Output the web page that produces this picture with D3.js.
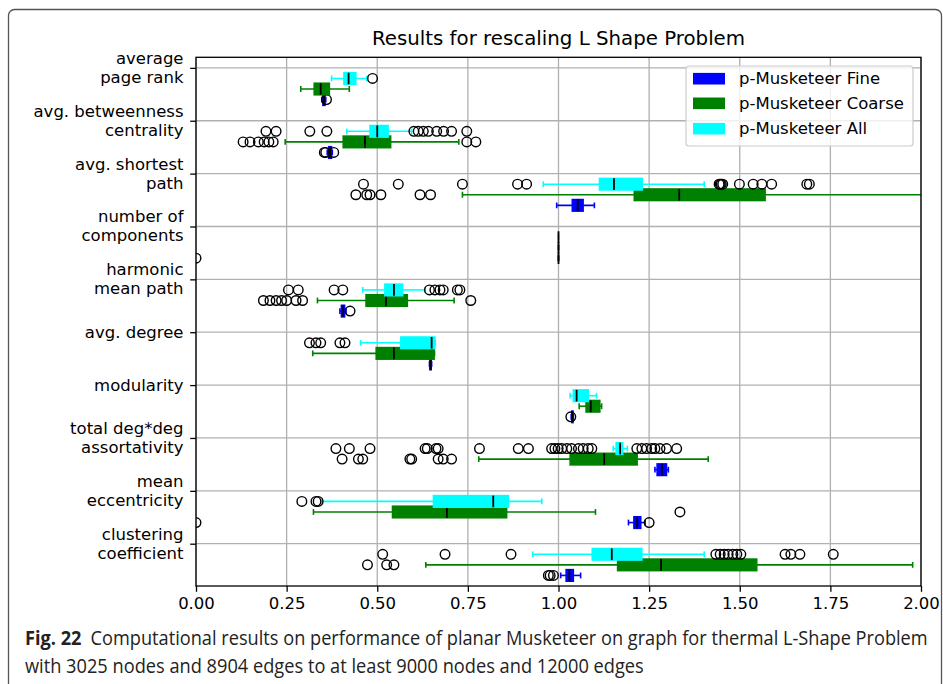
<!DOCTYPE html>
<html>
<head>
<meta charset="utf-8">
<script src="https://cdn.jsdelivr.net/npm/d3@7.9.0/dist/d3.min.js"></script>
<style>
  html, body { margin: 0; padding: 0; background: #fff; }
  svg { display: block; }
</style>
</head>
<body>
<svg id="chart" width="943" height="684"></svg>
<script>
// metric names, top to bottom
const categories = [
  ['average', 'page rank'],
  ['avg. betweenness', 'centrality'],
  ['avg. shortest', 'path'],
  ['number of', 'components'],
  ['harmonic', 'mean path'],
  ['avg. degree'],
  ['modularity'],
  ['total deg*deg', 'assortativity'],
  ['mean', 'eccentricity'],
  ['clustering', 'coefficient']
];

const xTicks = [0, 0.25, 0.5, 0.75, 1.0, 1.25, 1.5, 1.75, 2.0];

const seriesNames = ['p-Musketeer Fine', 'p-Musketeer Coarse', 'p-Musketeer All'];

// [whisker low, q1, median, q3, whisker high] per category
const allStats = [
  [0.374, 0.408, 0.421, 0.441, 0.471],
  [0.416, 0.480, 0.500, 0.530, 0.595],
  [0.958, 1.113, 1.153, 1.231, 1.402],
  [1.0, 1.0, 1.0, 1.0, 1.0],
  [0.460, 0.521, 0.546, 0.570, 0.632],
  [0.454, 0.565, 0.650, 0.659, 0.660],
  [1.032, 1.041, 1.050, 1.082, 1.105],
  [1.151, 1.159, 1.170, 1.177, 1.190],
  [0.347, 0.655, 0.820, 0.862, 0.954],
  [0.929, 1.093, 1.147, 1.230, 1.402]
];
const allFliers = [
  [0.487],
  [0.193, 0.221, 0.314, 0.361, 0.601, 0.613, 0.627, 0.641, 0.664, 0.683, 0.705, 0.747],
  [0.462, 0.558, 0.735, 0.887, 0.912, 1.443, 1.446, 1.449, 1.453, 1.499, 1.537, 1.561, 1.588, 1.685, 1.692],
  [],
  [0.255, 0.282, 0.381, 0.405, 0.644, 0.659, 0.673, 0.682, 0.721, 0.728],
  [0.313, 0.331, 0.344, 0.397, 0.411],
  [],
  [0.386, 0.423, 0.480, 0.632, 0.638, 0.662, 0.668, 0.782, 0.889, 0.917, 0.981, 0.990, 0.999, 1.009, 1.023,
   1.036, 1.055, 1.068, 1.082, 1.092, 1.216, 1.230, 1.243, 1.257, 1.266, 1.280, 1.298, 1.326],
  [0.292, 0.331, 0.337],
  [0.515, 0.687, 0.869, 1.434, 1.446, 1.457, 1.468, 1.481, 1.492, 1.503, 1.625, 1.641, 1.666, 1.758]
];

const coarseStats = [
  [0.289, 0.326, 0.344, 0.368, 0.423],
  [0.246, 0.406, 0.466, 0.537, 0.725],
  [0.735, 1.209, 1.333, 1.570, 2.2],
  [1.0, 1.0, 1.0, 1.0, 1.0],
  [0.335, 0.469, 0.524, 0.583, 0.712],
  [0.322, 0.497, 0.546, 0.657, 0.658],
  [1.057, 1.076, 1.089, 1.114, 1.119],
  [0.780, 1.032, 1.126, 1.217, 1.413],
  [0.324, 0.542, 0.692, 0.857, 1.102],
  [0.634, 1.163, 1.283, 1.547, 1.977]
];
const coarseFliers = [
  [],
  [0.130, 0.149, 0.172, 0.188, 0.201, 0.213, 0.747, 0.772],
  [0.441, 0.471, 0.480, 0.510, 0.618, 0.647],
  [],
  [0.186, 0.204, 0.221, 0.236, 0.250, 0.276, 0.294, 0.758],
  [],
  [],
  [0.403, 0.448, 0.460, 0.590, 0.595, 0.668, 0.682, 0.705],
  [1.335],
  [0.473, 0.526, 0.546]
];

const fineStats = [
  [0.347, 0.350, 0.353, 0.356, 0.358],
  [0.362, 0.366, 0.370, 0.374, 0.376],
  [0.995, 1.038, 1.053, 1.068, 1.099],
  [1.0, 1.0, 1.0, 1.0, 1.0],
  [0.397, 0.401, 0.406, 0.410, 0.414],
  [0.644, 0.645, 0.647, 0.649, 0.650],
  [1.035, 1.037, 1.038, 1.040, 1.041],
  [1.266, 1.272, 1.285, 1.298, 1.303],
  [1.193, 1.208, 1.217, 1.227, 1.239],
  [1.006, 1.021, 1.030, 1.041, 1.061]
];
const fineFliers = [
  [0.360],
  [0.354, 0.358, 0.380],
  [],
  [0.0],
  [0.425],
  [],
  [1.034],
  [],
  [0.0, 1.250],
  [0.972, 0.977, 0.986]
];

const colors = ['#0000ff', '#008000', '#00ffff'];

const svg = d3.select('#chart');
const plot = { left: 196, right: 921, top: 57.3, bottom: 586 };
const fontMain = 'DejaVu Sans, sans-serif';

// figure frame
svg.append('rect')
  .attr('x', 8.5).attr('y', 9.5)
  .attr('width', 933).attr('height', 720)
  .attr('rx', 6)
  .attr('fill', 'none')
  .attr('stroke', '#555')
  .attr('stroke-width', 1.3);

const x = d3.scaleLinear().domain([0, 2]).range([plot.left, plot.right]);
const y = d3.scaleLinear().domain([-0.2, 9.8]).range([plot.top, plot.bottom]);

// grid
const grid = svg.append('g');
grid.selectAll('line.gx').data(xTicks).join('line')
  .attr('x1', d => x(d)).attr('x2', d => x(d))
  .attr('y1', plot.top).attr('y2', plot.bottom)
  .attr('stroke', '#b0b0b0').attr('stroke-width', 1.3);
grid.selectAll('line.gy').data(d3.range(categories.length)).join('line')
  .attr('x1', plot.left).attr('x2', plot.right)
  .attr('y1', d => y(d)).attr('y2', d => y(d))
  .attr('stroke', '#b0b0b0').attr('stroke-width', 1.3);

svg.append('clipPath').attr('id', 'clip')
  .append('rect')
  .attr('x', plot.left).attr('y', plot.top)
  .attr('width', plot.right - plot.left)
  .attr('height', plot.bottom - plot.top);

const marks = svg.append('g').attr('clip-path', 'url(#clip)');

const boxH = 0.22;
const capH = 0.11;
const offsets = [0.6, 0.4, 0.2]; // fine, coarse, all

function drawSeries(stats, fliers, color, off) {
  const g = marks.append('g');
  stats.forEach((s, i) => {
    const cy = y(i + off);
    const half = (y(boxH) - y(0)) / 2;
    const capHalf = (y(capH) - y(0)) / 2;
    const [lw, q1, med, q3, hw] = s;
    // whiskers
    g.append('line')
      .attr('x1', x(lw)).attr('x2', x(q1))
      .attr('y1', cy).attr('y2', cy)
      .attr('stroke', color).attr('stroke-width', 1.6);
    g.append('line')
      .attr('x1', x(q3)).attr('x2', x(hw))
      .attr('y1', cy).attr('y2', cy)
      .attr('stroke', color).attr('stroke-width', 1.6);
    // caps
    [lw, hw].forEach(v => {
      g.append('line')
        .attr('x1', x(v)).attr('x2', x(v))
        .attr('y1', cy - capHalf).attr('y2', cy + capHalf)
        .attr('stroke', color).attr('stroke-width', 1.6);
    });
    // box
    g.append('rect')
      .attr('x', x(q1)).attr('y', cy - half)
      .attr('width', Math.max(0, x(q3) - x(q1)))
      .attr('height', half * 2)
      .attr('fill', color)
      .attr('stroke', color).attr('stroke-width', 1.5);
    // median
    g.append('line')
      .attr('x1', x(med)).attr('x2', x(med))
      .attr('y1', cy - half).attr('y2', cy + half)
      .attr('stroke', '#000').attr('stroke-width', 1.8);
    // outliers
    g.selectAll(null).data(fliers[i]).join('circle')
      .attr('cx', d => x(d)).attr('cy', cy)
      .attr('r', 4.8)
      .attr('fill', 'none')
      .attr('stroke', '#000').attr('stroke-width', 1.4);
  });
}

drawSeries(fineStats, fineFliers, colors[0], offsets[0]);
drawSeries(coarseStats, coarseFliers, colors[1], offsets[1]);
drawSeries(allStats, allFliers, colors[2], offsets[2]);

// frame
svg.append('rect')
  .attr('x', plot.left).attr('y', plot.top)
  .attr('width', plot.right - plot.left)
  .attr('height', plot.bottom - plot.top)
  .attr('fill', 'none')
  .attr('stroke', '#000').attr('stroke-width', 1.3);

// x axis
const xAxis = svg.append('g')
  .attr('transform', `translate(0,${plot.bottom})`)
  .call(d3.axisBottom(x).tickValues(xTicks).tickFormat(d3.format('.2f')).tickSize(5.8).tickPadding(5.5));
xAxis.select('.domain').remove();
xAxis.selectAll('.tick line').attr('stroke', '#000').attr('stroke-width', 1.3);
xAxis.selectAll('.tick text')
  .attr('font-family', fontMain).attr('font-size', 16.5).attr('fill', '#000');

// y axis
const yAxis = svg.append('g')
  .attr('transform', `translate(${plot.left},0)`)
  .call(d3.axisLeft(y).tickValues(d3.range(categories.length)).tickFormat('').tickSize(5.8));
yAxis.select('.domain').remove();
yAxis.selectAll('.tick line').attr('stroke', '#000').attr('stroke-width', 1.3);

const lineGap = 19;
categories.forEach((lines, i) => {
  const t = svg.append('text')
    .attr('font-family', fontMain).attr('font-size', 16.5)
    .attr('text-anchor', 'end').attr('fill', '#000');
  const n = lines.length;
  lines.forEach((ln, j) => {
    t.append('tspan')
      .attr('x', 183.5)
      .attr('y', y(i) + (j - (n - 1) / 2) * lineGap)
      .attr('dominant-baseline', 'central')
      .text(ln);
  });
});

// title
svg.append('text')
  .attr('x', (plot.left + plot.right) / 2).attr('y', 45)
  .attr('text-anchor', 'middle')
  .attr('font-family', fontMain).attr('font-size', 19.8)
  .text('Results for rescaling L Shape Problem');

// legend
const lg = svg.append('g');
lg.append('rect')
  .attr('x', 686).attr('y', 66).attr('width', 227).attr('height', 80)
  .attr('rx', 3)
  .attr('fill', '#fff').attr('fill-opacity', 0.8)
  .attr('stroke', '#ccc').attr('stroke-width', 1.2);
const legendY = [78.7, 103.3, 128.7];
seriesNames.forEach((name, i) => {
  lg.append('rect')
    .attr('x', 693).attr('y', legendY[i] - 5.8)
    .attr('width', 32).attr('height', 11.6)
    .attr('fill', colors[i]);
  lg.append('text')
    .attr('x', 739).attr('y', legendY[i])
    .attr('dominant-baseline', 'central')
    .attr('font-family', fontMain).attr('font-size', 16.5)
    .text(name);
});

// caption: condensed look by squeezing the text horizontally to its width
const capFont = 'Liberation Sans Narrow, Open Sans, sans-serif';
function captionLine(yPos, targetW, build) {
  const g = svg.append('g');
  const t = g.append('text')
    .attr('x', 0).attr('y', 0)
    .attr('font-family', capFont).attr('font-size', 20)
    .attr('fill', '#222');
  build(t);
  const w = t.node().getComputedTextLength();
  g.attr('transform', `translate(25,${yPos}) scale(${targetW / w},1)`);
}
captionLine(645, 903, t => {
  t.append('tspan').attr('font-weight', 'bold').text('Fig. 22');
  t.append('tspan').text('\u2002Computational results on performance of planar Musketeer on graph for thermal L-Shape Problem');
});
captionLine(673, 619, t => {
  t.text('with 3025 nodes and 8904 edges to at least 9000 nodes and 12000 edges');
});
</script>
</body>
</html>
